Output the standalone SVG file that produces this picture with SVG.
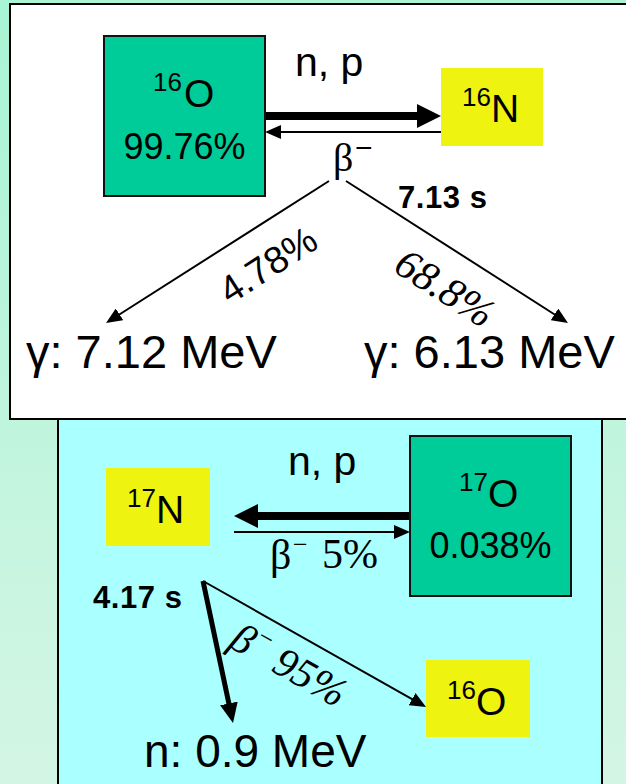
<svg xmlns="http://www.w3.org/2000/svg" width="626" height="784" viewBox="0 0 626 784">
<defs>
<linearGradient id="bg" x1="0" y1="0" x2="0" y2="1">
<stop offset="0" stop-color="#a8f4d4"/>
<stop offset="1" stop-color="#d4f5e5"/>
</linearGradient>
<marker id="hThick" viewBox="0 0 24 24" refX="3" refY="12" markerWidth="24" markerHeight="24" markerUnits="userSpaceOnUse" orient="auto"><path d="M0,0 L24,12 L0,24 z" fill="#000"/></marker>
<marker id="hMid" viewBox="0 0 20 18" refX="3" refY="9" markerWidth="20" markerHeight="18" markerUnits="userSpaceOnUse" orient="auto"><path d="M0,0 L20,9 L0,18 z" fill="#000"/></marker>
<marker id="hThin" viewBox="0 0 16 14" refX="3" refY="7" markerWidth="16" markerHeight="14" markerUnits="userSpaceOnUse" orient="auto"><path d="M0,0 L16,7 L0,14 z" fill="#000"/></marker>
</defs>
<style>
text{font-family:"Liberation Sans",Arial,sans-serif;fill:#000}
.serif{font-family:"Liberation Serif","Times New Roman",serif}
.it{font-style:italic}
.sup{font-size:26px}
.sym{font-size:39px}
.pct{font-size:36px}
.big{font-size:47px}
.np{font-size:41px}
.bold{font-weight:bold;font-size:31px}
.green{fill:#00cc99;stroke:#111;stroke-width:2}
.yellow{fill:#eef30f}
.thin{stroke:#000;stroke-width:2;fill:none}
.mid{stroke:#000;stroke-width:5;fill:none}
.thick{stroke:#000;stroke-width:8;fill:none}
</style>
<rect x="0" y="0" width="626" height="784" fill="url(#bg)"/>
<g id="panel-bottom"><rect x="58" y="418" width="544" height="380" fill="#aaffff" stroke="#000" stroke-width="2"/></g>
<g id="panel-top"><rect x="10" y="4" width="630" height="415" fill="#fff" stroke="#000" stroke-width="2"/></g>

<g id="connectors">
<line class="thick" x1="265" y1="116" x2="420" y2="116" marker-end="url(#hThick)"/>
<line class="thin" x1="441" y1="132" x2="278" y2="132" marker-end="url(#hThin)"/>
<line class="thin" x1="329" y1="181" x2="117" y2="316" marker-end="url(#hThin)"/>
<line class="thin" x1="346" y1="181" x2="557" y2="316" marker-end="url(#hThin)"/>
<line class="thick" x1="410" y1="516" x2="255" y2="516" marker-end="url(#hThick)"/>
<line class="thin" x1="234" y1="532" x2="397" y2="532" marker-end="url(#hThin)"/>
<line class="mid" x1="203" y1="581" x2="229.5" y2="706.4" marker-end="url(#hMid)"/>
<line class="thin" x1="203" y1="581" x2="414.7" y2="700.6" marker-end="url(#hThin)"/>
</g>

<g id="o16-top">
<rect class="green" x="104" y="36" width="161" height="160"/>
<text class="sup" x="153" y="91">16</text>
<text class="sym" x="184" y="107">O</text>
<text class="pct" x="184.5" y="159" text-anchor="middle">99.76%</text>
</g>
<g id="n16-top">
<rect class="yellow" x="441" y="68" width="102" height="78"/>
<text class="sup" x="462" y="106">16</text>
<text class="sym" x="491" y="122">N</text>
</g>
<g id="labels-top">
<text class="np" x="295" y="76">n, p</text>
<text class="serif" x="333" y="171" font-size="40">β</text>
<text x="355" y="158" font-size="30">−</text>
<text class="bold" x="398" y="208" textLength="89" lengthAdjust="spacing">7.13 s</text>
<text font-size="38" text-anchor="middle" dominant-baseline="central" transform="translate(268,265) rotate(-32.7)">4.78%</text>
<text class="serif it" font-size="42" text-anchor="middle" dominant-baseline="central" transform="translate(445,288) rotate(32.6)">68.8%</text>
</g>
<g id="gamma-712"><text class="big" x="26" y="368">γ: 7.12 MeV</text></g>
<g id="gamma-613"><text class="big" x="364" y="368">γ: 6.13 MeV</text></g>

<g id="n17">
<rect class="yellow" x="106" y="468" width="104" height="78"/>
<text class="sup" x="127" y="507">17</text>
<text class="sym" x="156" y="523">N</text>
</g>
<g id="o17">
<rect class="green" x="410" y="436" width="161" height="160"/>
<text class="sup" x="459" y="491">17</text>
<text class="sym" x="488" y="507">O</text>
<text class="pct" x="490.5" y="558" text-anchor="middle">0.038%</text>
</g>
<g id="o16-bottom">
<rect class="yellow" x="426" y="660" width="104" height="77"/>
<text class="sup" x="447" y="699">16</text>
<text class="sym" x="476" y="715">O</text>
</g>
<g id="labels-bottom">
<text class="np" x="288" y="475">n, p</text>
<text class="serif" x="270" y="569" font-size="42">β</text>
<text class="serif" x="293" y="553" font-size="26">−</text>
<text class="serif" x="322" y="568" font-size="42">5%</text>
<text class="bold" x="93" y="608" textLength="89" lengthAdjust="spacing">4.17 s</text>
<text class="serif it" font-size="42" text-anchor="middle" dominant-baseline="central" transform="translate(289,665) rotate(29.5)">β<tspan font-size="26" dy="-13">−</tspan><tspan dy="13"> 95%</tspan></text>
</g>
<g id="n-energy"><text x="144" y="767" style="font-size:46px">n: 0.9 MeV</text></g>
</svg>
